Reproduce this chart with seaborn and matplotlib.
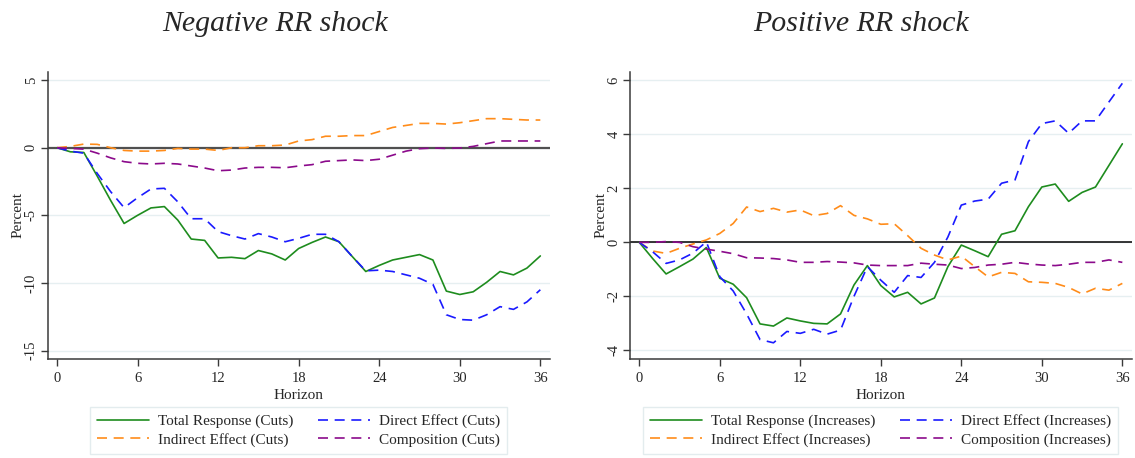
import numpy as np
import pandas as pd
import matplotlib
matplotlib.use("Agg")
import matplotlib.pyplot as plt
import seaborn as sns

# Horizon (months after the shock)
horizon = list(range(37))

# Negative RR shock (cuts)
cuts_total = [0.0, -0.3, -0.35, -2.1, -3.9, -5.6, -5.0, -4.45, -4.35, -5.35, -6.75, -6.85,
              -8.15, -8.1, -8.2, -7.6, -7.85, -8.3, -7.45, -7.0, -6.6, -6.95, -8.05, -9.15,
              -8.7, -8.3, -8.1, -7.9, -8.3, -10.6, -10.85, -10.65, -9.95, -9.15, -9.4, -8.9, -8.0]
cuts_direct = [0.0, -0.25, -0.4, -1.9, -3.25, -4.43, -3.7, -3.05, -3.0, -4.0, -5.25, -5.25,
               -6.2, -6.5, -6.75, -6.35, -6.6, -6.95, -6.7, -6.4, -6.4, -6.95, -8.05, -9.1,
               -9.05, -9.15, -9.4, -9.65, -10.1, -12.35, -12.7, -12.75, -12.35, -11.75, -11.95, -11.4, -10.5]
cuts_indirect = [0.0, 0.1, 0.27, 0.25, 0.0, -0.2, -0.25, -0.25, -0.2, -0.05, -0.1, -0.1,
                 -0.2, 0.0, 0.0, 0.15, 0.15, 0.2, 0.5, 0.6, 0.85, 0.85, 0.9, 0.9,
                 1.2, 1.5, 1.65, 1.8, 1.8, 1.75, 1.85, 2.0, 2.15, 2.15, 2.1, 2.05, 2.05]
cuts_comp = [0.0, -0.05, -0.1, -0.4, -0.75, -1.03, -1.15, -1.2, -1.15, -1.2, -1.35, -1.5,
             -1.7, -1.65, -1.5, -1.45, -1.45, -1.48, -1.35, -1.25, -1.0, -0.95, -0.9, -0.95,
             -0.85, -0.55, -0.25, -0.07, -0.02, -0.05, -0.02, 0.1, 0.3, 0.5, 0.5, 0.5, 0.5]

# Positive RR shock (increases)
inc_total = [0.0, -0.6, -1.17, -0.9, -0.62, -0.19, -1.33, -1.55, -2.05, -3.02, -3.1, -2.8,
             -2.91, -3.0, -3.02, -2.65, -1.58, -0.86, -1.6, -2.02, -1.85, -2.28, -2.06, -0.9,
             -0.1, -0.31, -0.53, 0.3, 0.43, 1.32, 2.05, 2.16, 1.52, 1.85, 2.05, 2.85, 3.65]
inc_direct = [0.0, -0.35, -0.78, -0.65, -0.4, 0.02, -1.27, -1.8, -2.65, -3.6, -3.72, -3.3,
              -3.37, -3.22, -3.4, -3.25, -2.0, -0.9, -1.4, -1.85, -1.23, -1.3, -0.74, 0.2,
              1.38, 1.53, 1.6, 2.19, 2.31, 3.73, 4.4, 4.5, 4.04, 4.5, 4.5, 5.2, 5.89]
inc_indirect = [0.0, -0.32, -0.41, -0.22, -0.06, 0.09, 0.33, 0.7, 1.31, 1.14, 1.26, 1.12,
                1.2, 0.99, 1.07, 1.36, 1.0, 0.87, 0.67, 0.69, 0.25, -0.22, -0.47, -0.65,
                -0.51, -0.9, -1.28, -1.11, -1.15, -1.46, -1.48, -1.52, -1.67, -1.91, -1.7, -1.77, -1.52]
inc_comp = [0.0, 0.0, 0.03, 0.0, -0.16, -0.25, -0.33, -0.42, -0.57, -0.58, -0.6, -0.65,
            -0.74, -0.74, -0.71, -0.73, -0.76, -0.84, -0.86, -0.86, -0.86, -0.77, -0.81, -0.84,
            -0.97, -0.93, -0.84, -0.81, -0.74, -0.8, -0.84, -0.86, -0.81, -0.74, -0.74, -0.65, -0.74]

x_ticks = [0, 6, 12, 18, 24, 30, 36]
left_yticks = [-15, -10, -5, 0, 5]
right_yticks = [-4, -2, 0, 2, 4, 6]

sns.set_style("white")
plt.rcParams["font.family"] = ["Liberation Serif", "DejaVu Serif"]
plt.rcParams["font.size"] = 10

COL_TOTAL = "#1e8c1e"
COL_DIRECT = "#1a1aff"
COL_INDIRECT = "#ff8c1a"
COL_COMP = "#8b0a8b"
DASH = (0, (6, 4))
GRID = "#e6eff1"
SPINE = "#3a3a3a"

fig = plt.figure(figsize=(11.35, 4.58), dpi=100)
W, H = 1135.0, 458.0


def panel(left_px, right_px, totals, direct, indirect, comp, tag, yticks, ylim, zero_col, zero_lw):
    ax = fig.add_axes([left_px / W, (H - 359) / H, (right_px - left_px) / W, (359 - 72) / H])
    series = [
        (totals, f"Total Response ({tag})", COL_TOTAL, "-"),
        (indirect, f"Indirect Effect ({tag})", COL_INDIRECT, DASH),
        (direct, f"Direct Effect ({tag})", COL_DIRECT, DASH),
        (comp, f"Composition ({tag})", COL_COMP, DASH),
    ]
    for yi in yticks:
        ax.axhline(yi, color=GRID, lw=1.0, zorder=0)
    ax.axhline(0, color=zero_col, lw=zero_lw, zorder=1)
    for vals, label, col, ls in series:
        df = pd.DataFrame({"Horizon": horizon, "Percent": vals})
        sns.lineplot(data=df, x="Horizon", y="Percent", ax=ax, color=col,
                     linestyle=ls, lw=1.2, label=label, zorder=3)
    ax.set_xlim(-0.69, 36.72)
    ax.set_ylim(*ylim)
    ax.set_xticks(x_ticks)
    ax.set_yticks(yticks)
    ax.set_yticklabels([str(v) for v in yticks], rotation=90, va="center")
    ax.tick_params(axis="both", direction="out", length=5, width=1, color=SPINE,
                   labelsize=10.5, left=True, bottom=True)
    ax.tick_params(axis="y", pad=2)
    ax.tick_params(axis="x", pad=4)
    ax.set_xlabel("Horizon", fontsize=11, labelpad=3)
    ax.set_ylabel("Percent", fontsize=11, labelpad=0)
    for s in ["top", "right"]:
        ax.spines[s].set_visible(False)
    for s in ["left", "bottom"]:
        ax.spines[s].set_color(SPINE)
        ax.spines[s].set_linewidth(1.1)
    ax.get_legend().remove()
    handles, labels = ax.get_legend_handles_labels()
    return ax, handles, labels


axL, hL, lL = panel(47.7, 550, cuts_total, cuts_direct, cuts_indirect, cuts_comp, "Cuts",
                    left_yticks, (-15.62, 5.6), "#505050", 1.6)
axR, hR, lR = panel(630, 1132, inc_total, inc_direct, inc_indirect, inc_comp, "Increases",
                    right_yticks, (-4.32, 6.31), "black", 1.1)

for handles, labels, cx in [(hL, lL, 298.9), (hR, lR, 880.4)]:
    leg = fig.legend(handles, labels, loc="center", bbox_to_anchor=(cx / W, 1 - 430.5 / H),
                     bbox_transform=fig.transFigure, ncol=2, fontsize=11, frameon=True,
                     fancybox=False, edgecolor="#dde8ea", handlelength=3.4,
                     handletextpad=0.6, columnspacing=1.6, labelspacing=0.3,
                     borderpad=0.45)
    leg.get_frame().set_linewidth(1.0)

title_font = dict(fontsize=21.5, style="italic", family=["Liberation Serif", "DejaVu Serif"])
fig.text(275.5 / W, 1 - 24 / H, "Negative RR shock", ha="center", va="center", **title_font)
fig.text(861 / W, 1 - 24 / H, "Positive RR shock", ha="center", va="center", **title_font)

fig.savefig("out.png", dpi=100)
